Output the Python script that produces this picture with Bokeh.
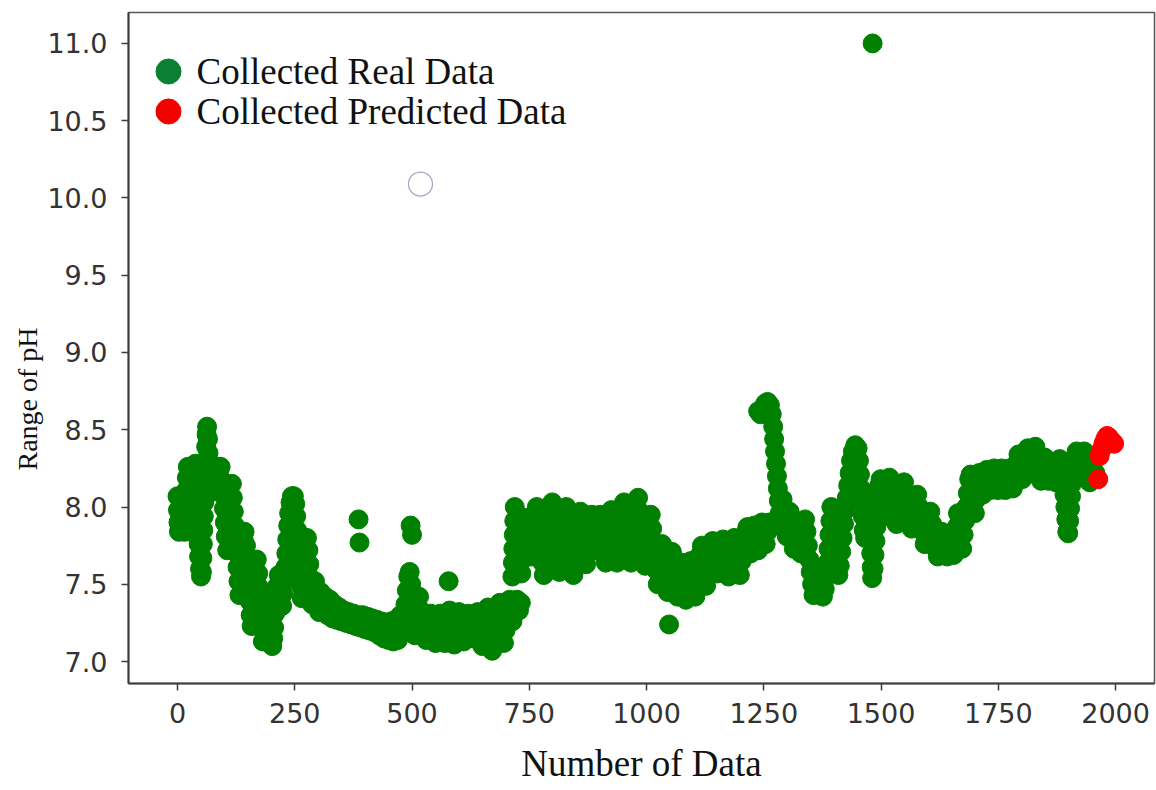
from bokeh.plotting import figure
from bokeh.models import FixedTicker, PrintfTickFormatter, Label, ColumnDataSource, Range1d, Title
from bokeh.embed import file_html
from bokeh.resources import INLINE

# pH readings as (sample number, pH), grouped by period of the record
startup_readings = [
    (0, 8.07), (1, 7.98), (2, 7.90), (3, 7.84), (5, 7.92), (7, 8.00), (9, 8.06), (11, 7.97),
    (13, 7.88), (15, 7.84), (17, 7.93), (18, 8.02), (19, 8.11), (20, 8.19), (22, 8.26), (24, 8.18),
    (25, 8.09), (26, 8.00), (27, 7.91), (29, 7.84), (31, 7.92), (32, 8.01), (33, 8.10), (34, 8.18),
    (36, 8.26), (38, 8.28), (40, 8.20), (41, 8.11), (42, 8.02), (43, 7.93), (44, 7.84), (45, 7.76),
    (46, 7.68), (48, 7.60), (50, 7.55), (52, 7.58), (53, 7.67), (54, 7.76), (55, 7.85), (56, 7.94),
    (57, 8.03), (58, 8.12), (59, 8.21), (60, 8.30), (61, 8.39), (62, 8.47), (63, 8.52), (65, 8.44),
    (66, 8.35), (68, 8.27), (71, 8.24), (74, 8.17), (77, 8.10), (80, 8.18), (83, 8.25), (86, 8.26),
    (89, 8.20), (92, 8.26),
]

early_decline = [
    (95, 8.17), (97, 8.08), (99, 7.99), (101, 7.90), (103, 7.81), (106, 7.72), (108, 7.80), (110, 7.89),
    (112, 7.98), (114, 8.07), (116, 8.15), (118, 8.06), (120, 7.97), (122, 7.88), (124, 7.79), (126, 7.70),
    (128, 7.61), (130, 7.52), (132, 7.43), (135, 7.52), (137, 7.61), (139, 7.70), (141, 7.79), (143, 7.84),
    (146, 7.75), (148, 7.66), (150, 7.57), (152, 7.48), (154, 7.39), (156, 7.30), (158, 7.23), (161, 7.32),
    (163, 7.41), (165, 7.50), (167, 7.59), (169, 7.66), (172, 7.57), (174, 7.48), (176, 7.39), (178, 7.30),
    (180, 7.21), (182, 7.13), (185, 7.22), (187, 7.31), (190, 7.40), (193, 7.32), (196, 7.24), (198, 7.16),
    (200, 7.11), (202, 7.10), (204, 7.15), (206, 7.22), (208, 7.31), (210, 7.40), (213, 7.49), (216, 7.56),
    (219, 7.50), (221, 7.42), (223, 7.36), (225, 7.44), (228, 7.52), (230, 7.61), (232, 7.70), (234, 7.79),
    (236, 7.88), (238, 7.96), (241, 8.03), (244, 8.07), (248, 8.07), (251, 8.02), (253, 7.94), (255, 7.85),
    (257, 7.76), (259, 7.67), (261, 7.58), (263, 7.49), (265, 7.41), (268, 7.45), (270, 7.54), (272, 7.63),
    (274, 7.72), (276, 7.80), (279, 7.72), (281, 7.63), (283, 7.54), (285, 7.45), (287, 7.37), (290, 7.45),
    (293, 7.52), (296, 7.44), (299, 7.36), (302, 7.32),
]

low_plateau = [
    (305, 7.45), (310, 7.34), (315, 7.42), (320, 7.30), (325, 7.40), (330, 7.28), (335, 7.37), (340, 7.27),
    (345, 7.35), (350, 7.26), (355, 7.33), (360, 7.25), (365, 7.32), (370, 7.24), (375, 7.31), (380, 7.23),
    (385, 7.30), (390, 7.22), (395, 7.30), (400, 7.21), (405, 7.29), (410, 7.20), (415, 7.28), (420, 7.19),
    (425, 7.27), (430, 7.17), (435, 7.26), (440, 7.15), (445, 7.25), (450, 7.14), (455, 7.26), (460, 7.13),
    (465, 7.27), (470, 7.14), (475, 7.30), (480, 7.20), (483, 7.28), (486, 7.37), (489, 7.46), (492, 7.55),
    (495, 7.58), (498, 7.50), (500, 7.41), (502, 7.32), (504, 7.23), (506, 7.17), (509, 7.26), (512, 7.35),
    (515, 7.42), (519, 7.33), (523, 7.30), (527, 7.22), (530, 7.14), (535, 7.24), (540, 7.31), (545, 7.21),
    (550, 7.12), (555, 7.22), (560, 7.31), (565, 7.21), (570, 7.12), (575, 7.22), (580, 7.33), (585, 7.22),
    (590, 7.11), (595, 7.22), (600, 7.32), (605, 7.22), (610, 7.13), (615, 7.22), (620, 7.31), (625, 7.23),
    (630, 7.15), (635, 7.24), (640, 7.32), (645, 7.20), (650, 7.10), (654, 7.18), (658, 7.27), (662, 7.35),
    (665, 7.27), (668, 7.17), (671, 7.07), (675, 7.15), (679, 7.24), (683, 7.33), (687, 7.38), (690, 7.29),
    (693, 7.20), (696, 7.12), (699, 7.20), (702, 7.29), (705, 7.38), (708, 7.40), (711, 7.32), (714, 7.26),
    (717, 7.32), (720, 7.38), (724, 7.40), (728, 7.33), (732, 7.38),
]

mid_plateau = [
    (714, 7.55), (715, 7.64), (716, 7.73), (717, 7.82), (718, 7.91), (719, 8.00), (721, 7.92), (724, 7.83),
    (727, 7.74), (730, 7.65), (733, 7.57), (736, 7.66), (739, 7.75), (742, 7.84), (745, 7.93), (748, 7.85),
    (751, 7.76), (754, 7.68), (757, 7.76), (760, 7.85), (763, 7.94), (766, 8.00), (769, 7.91), (772, 7.82),
    (775, 7.73), (778, 7.64), (781, 7.56), (784, 7.65), (787, 7.74), (790, 7.83), (793, 7.92), (796, 8.01),
    (799, 8.03), (802, 7.94), (805, 7.85), (808, 7.76), (811, 7.67), (814, 7.58), (817, 7.67), (820, 7.76),
    (823, 7.85), (826, 7.94), (829, 8.00), (832, 7.91), (835, 7.82), (838, 7.73), (841, 7.64), (844, 7.56),
    (847, 7.64), (850, 7.73), (853, 7.82), (856, 7.91), (859, 7.97), (862, 7.88), (865, 7.79), (868, 7.70),
    (871, 7.63), (874, 7.71), (877, 7.80), (880, 7.89), (883, 7.95), (886, 7.87), (889, 7.79), (892, 7.72),
    (895, 7.80), (898, 7.88), (901, 7.95), (904, 7.87), (907, 7.79), (910, 7.71), (913, 7.64), (916, 7.72),
    (919, 7.81), (922, 7.90), (925, 7.98), (928, 7.89), (931, 7.80), (934, 7.71), (937, 7.64), (940, 7.72),
    (943, 7.81), (946, 7.90), (949, 7.98), (952, 8.03), (955, 7.94), (958, 7.85), (961, 7.76), (964, 7.67),
    (967, 7.64), (970, 7.73), (973, 7.82), (976, 7.91), (979, 8.00), (982, 8.06), (985, 7.97), (988, 7.88),
    (991, 7.79), (994, 7.70), (997, 7.62), (1000, 7.70), (1003, 7.79), (1006, 7.88), (1009, 7.95),
    (1012, 7.86), (1015, 7.77), (1018, 7.68), (1021, 7.59), (1024, 7.50), (1027, 7.58), (1030, 7.67),
    (1033, 7.76),
]

dip_and_spike = [
    (1036, 7.68), (1039, 7.59), (1042, 7.50), (1045, 7.45), (1048, 7.54), (1051, 7.63), (1054, 7.71),
    (1057, 7.62), (1060, 7.53), (1063, 7.44), (1066, 7.42), (1069, 7.51), (1072, 7.60), (1075, 7.64),
    (1078, 7.55), (1081, 7.46), (1084, 7.40), (1088, 7.48), (1091, 7.57), (1094, 7.65), (1098, 7.58),
    (1101, 7.49), (1104, 7.42), (1108, 7.51), (1111, 7.60), (1114, 7.69), (1118, 7.75), (1121, 7.66),
    (1124, 7.57), (1127, 7.49), (1131, 7.58), (1134, 7.67), (1137, 7.76), (1141, 7.78), (1144, 7.69),
    (1147, 7.60), (1151, 7.57), (1155, 7.66), (1159, 7.75), (1163, 7.79), (1167, 7.70), (1171, 7.61),
    (1175, 7.55), (1179, 7.64), (1183, 7.73), (1187, 7.80), (1191, 7.71), (1195, 7.62), (1199, 7.56),
    (1203, 7.65), (1207, 7.74), (1211, 7.83), (1215, 7.87), (1219, 7.78), (1222, 7.70), (1226, 7.79),
    (1230, 7.88), (1234, 7.80), (1238, 7.72), (1242, 7.81), (1246, 7.90), (1250, 7.83), (1254, 7.76),
    (1258, 7.84), (1262, 7.90),
    (1238, 8.62), (1243, 8.60), (1248, 8.64), (1253, 8.67), (1258, 8.68), (1263, 8.66), (1267, 8.60),
    (1270, 8.52), (1272, 8.44), (1274, 8.36), (1276, 8.28), (1278, 8.20), (1280, 8.12), (1282, 8.04),
    (1284, 7.96), (1286, 7.88), (1288, 7.96), (1290, 8.05), (1293, 7.97), (1296, 7.89), (1299, 7.81),
    (1302, 7.89), (1305, 7.97), (1308, 7.89), (1311, 7.81), (1314, 7.73), (1317, 7.80), (1321, 7.86),
    (1325, 7.78), (1329, 7.70), (1332, 7.79), (1335, 7.88), (1338, 7.92), (1341, 7.84), (1344, 7.75),
    (1347, 7.66), (1350, 7.58), (1353, 7.50), (1356, 7.43), (1360, 7.51), (1364, 7.59), (1368, 7.51),
    (1372, 7.43), (1376, 7.42), (1380, 7.47),
]

late_rise = [
    (1384, 7.55), (1386, 7.64), (1388, 7.73), (1390, 7.82), (1392, 7.91), (1394, 8.00), (1397, 7.92),
    (1400, 7.83), (1403, 7.74), (1406, 7.65), (1409, 7.56), (1412, 7.62), (1415, 7.71), (1418, 7.80),
    (1421, 7.89), (1424, 7.98), (1427, 8.06), (1430, 8.14), (1433, 8.22), (1436, 8.30), (1440, 8.36),
    (1445, 8.40), (1450, 8.38), (1453, 8.30), (1455, 8.21), (1457, 8.12), (1459, 8.03), (1461, 7.94),
    (1463, 7.85), (1466, 7.80), (1469, 7.88), (1471, 7.97), (1473, 8.06), (1476, 7.97), (1477, 7.88),
    (1478, 7.79), (1479, 7.70), (1480, 7.61), (1481, 7.54), (1484, 7.60), (1486, 7.69), (1488, 7.78),
    (1490, 7.87), (1492, 7.96), (1494, 8.05), (1496, 8.14), (1499, 8.18), (1502, 8.10), (1505, 8.02),
    (1508, 7.94), (1512, 8.02), (1515, 8.10), (1518, 8.19), (1522, 8.12), (1526, 8.04), (1530, 7.96),
    (1533, 7.89), (1537, 7.97), (1541, 8.05), (1545, 8.13), (1549, 8.16), (1553, 8.08), (1557, 8.00),
    (1561, 7.92), (1565, 7.86), (1569, 7.94), (1573, 8.02), (1577, 8.08), (1581, 8.00), (1585, 7.92),
    (1589, 7.84), (1593, 7.76), (1597, 7.84), (1601, 7.92), (1605, 7.97), (1609, 7.89), (1613, 7.81),
    (1617, 7.73), (1621, 7.68), (1625, 7.76), (1629, 7.84), (1633, 7.78), (1637, 7.70), (1641, 7.68),
    (1645, 7.74), (1649, 7.80), (1652, 7.72), (1655, 7.69), (1658, 7.78), (1661, 7.87), (1664, 7.96),
    (1667, 7.90), (1670, 7.81), (1673, 7.73), (1676, 7.82), (1679, 7.91), (1682, 8.00), (1685, 8.09),
    (1688, 8.18), (1691, 8.21), (1694, 8.12), (1697, 8.04), (1700, 7.96), (1703, 8.05), (1706, 8.14),
    (1709, 8.22), (1713, 8.15), (1717, 8.08), (1721, 8.16), (1725, 8.24), (1729, 8.17), (1733, 8.11),
    (1737, 8.18), (1741, 8.25), (1745, 8.18), (1749, 8.11), (1753, 8.18), (1757, 8.25), (1761, 8.18),
    (1765, 8.11), (1769, 8.18), (1773, 8.25),
]

final_readings = [
    (1777, 8.18), (1781, 8.12), (1785, 8.20), (1789, 8.28), (1793, 8.34), (1797, 8.26), (1801, 8.18),
    (1805, 8.24), (1809, 8.32), (1813, 8.38), (1817, 8.30), (1821, 8.22), (1825, 8.30), (1829, 8.39),
    (1833, 8.31), (1837, 8.23), (1841, 8.17), (1845, 8.25), (1849, 8.32), (1853, 8.24), (1857, 8.17),
    (1861, 8.24), (1865, 8.29), (1869, 8.22), (1873, 8.16), (1877, 8.24), (1881, 8.31), (1885, 8.24),
    (1889, 8.16), (1891, 8.08), (1893, 8.00), (1895, 7.92), (1897, 7.84), (1899, 7.83), (1901, 7.91),
    (1903, 7.99), (1905, 8.07), (1907, 8.15), (1910, 8.23), (1913, 8.31), (1917, 8.36), (1921, 8.28),
    (1925, 8.20), (1929, 8.28), (1933, 8.36), (1937, 8.29), (1941, 8.21), (1945, 8.16), (1949, 8.24),
    (1953, 8.30), (1957, 8.22),
]

# isolated readings away from the main trace
outlier_readings = [
    (386, 7.92), (388, 7.77), (497, 7.88), (500, 7.82), (578, 7.52), (1048, 7.24), (1482, 11.00),
]

# model output for the last samples
predicted_readings = [
    (1963, 8.18), (1966, 8.33), (1970, 8.37), (1974, 8.41), (1978, 8.44), (1982, 8.46),
    (1986, 8.45), (1990, 8.43), (1994, 8.42), (1997, 8.41),
]

# stray open marker
open_marker_idx = [518]
open_marker_ph = [10.09]

x_ticks = [0, 250, 500, 750, 1000, 1250, 1500, 1750, 2000]
y_ticks = [7.0, 7.5, 8.0, 8.5, 9.0, 9.5, 10.0, 10.5, 11.0]

legend_labels = ["Collected Real Data", "Collected Predicted Data"]
legend_colors = ["#0b7f33", "#f20000"]
x_title = "Number of Data"
y_title = "Range of pH"


def unpack(*groups):
    idx, ph = [], []
    for group in groups:
        for i, v in group:
            idx.append(i)
            ph.append(v)
    return idx, ph


real_idx, real_ph = unpack(startup_readings, early_decline, low_plateau, mid_plateau,
                           dip_and_spike, late_rise, final_readings, outlier_readings)
pred_idx, pred_ph = unpack(predicted_readings)

W, H = 1156, 790
LEFT, RIGHT, TOP, BOTTOM = 128, 2, 12, 107
X_RANGE = (-104.5, 2083.0)
Y_RANGE = (6.858, 11.2)

p = figure(width=W, height=H, output_backend="svg", toolbar_location=None,
           x_range=Range1d(*X_RANGE), y_range=Range1d(*Y_RANGE),
           min_border_left=LEFT, min_border_right=RIGHT,
           min_border_top=TOP, min_border_bottom=BOTTOM)
p.background_fill_color = "white"
p.border_fill_color = "white"
p.outline_line_color = "#555555"
p.outline_line_width = 1.5
p.grid.visible = False

real_src = ColumnDataSource(dict(x=real_idx, y=real_ph))
pred_src = ColumnDataSource(dict(x=pred_idx, y=pred_ph))
p.scatter("x", "y", source=real_src, size=19, fill_color="#008000", line_color="#008000")
p.scatter("x", "y", source=pred_src, size=19, fill_color="#ff0000", line_color="#ff0000")
p.scatter(open_marker_idx, open_marker_ph, size=24, fill_color=None,
          line_color="#a8a8cc", line_width=1.3)

for ax in (p.xaxis[0], p.yaxis[0]):
    ax.axis_line_color = "#3c3c3c"
    ax.axis_line_width = 2
    ax.major_tick_line_color = "#3c3c3c"
    ax.major_tick_line_width = 1.5
    ax.major_tick_out = 7
    ax.major_tick_in = 0
    ax.minor_tick_line_color = None
    ax.major_label_text_font = "DejaVu Sans"
    ax.major_label_text_font_size = "27px"
    ax.major_label_text_color = "#333333"

p.xaxis.ticker = FixedTicker(ticks=x_ticks)
p.xaxis.formatter = PrintfTickFormatter(format="%d")
p.yaxis.ticker = FixedTicker(ticks=y_ticks)
p.yaxis.formatter = PrintfTickFormatter(format="%.1f")
p.xaxis.major_label_standoff = 12
p.yaxis.major_label_standoff = 14

# x title on the axis itself
p.xaxis.axis_label = x_title
p.xaxis.axis_label_text_font = "Liberation Serif"
p.xaxis.axis_label_text_font_style = "normal"
p.xaxis.axis_label_text_font_size = "37px"
p.xaxis.axis_label_text_color = "#111111"
p.xaxis.axis_label_standoff = 17

# y title as a side title, anchored from the bottom of the frame
y_side = Title(text=y_title, align="left", offset=213, standoff=4,
               text_font="Liberation Serif", text_font_style="normal",
               text_font_size="28px", text_color="#111111")
p.add_layout(y_side, "left")

# pixel -> data conversion for the legend placed at fixed offsets inside the frame
frame_w = W - LEFT - RIGHT
frame_h = H - TOP - BOTTOM
ux = (X_RANGE[1] - X_RANGE[0]) / frame_w
uy = (Y_RANGE[1] - Y_RANGE[0]) / frame_h


def at_px(px, py):
    return X_RANGE[0] + (px - LEFT) * ux, Y_RANGE[1] - (py - TOP) * uy


key_pos = [at_px(168, 71), at_px(168, 111)]
text_pos = [at_px(196, 71), at_px(196, 111)]
p.scatter([k[0] for k in key_pos], [k[1] for k in key_pos], size=25,
          fill_color=legend_colors, line_color=legend_colors)
for label, (lx, ly) in zip(legend_labels, text_pos):
    p.add_layout(Label(x=lx, y=ly, text=label, text_font="Liberation Serif",
                       text_font_size="37px", text_baseline="middle", text_align="left",
                       text_color="#111111"))

open("out.html", "w").write(file_html(p, INLINE))
